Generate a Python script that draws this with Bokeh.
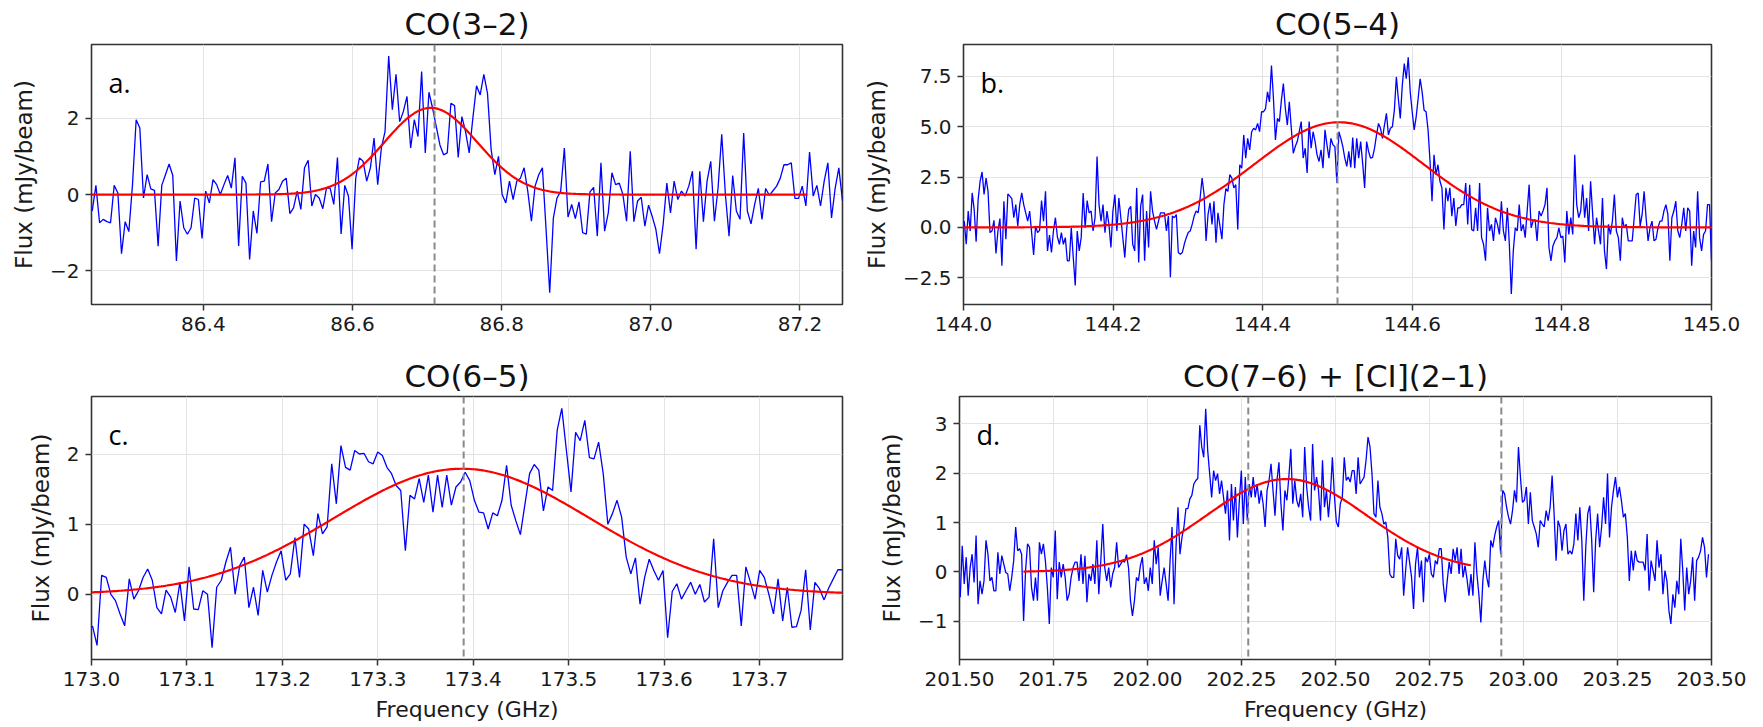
import numpy as np
from bokeh.plotting import figure
from bokeh.layouts import column, row
from bokeh.models import Range1d, FixedTicker, Span, Label
from bokeh.embed import file_html
from bokeh.resources import INLINE

# ---------------- data ----------------
titles = ["CO(3\u20132)", "CO(5\u20134)", "CO(6\u20135)", "CO(7\u20136) + [CI](2\u20131)"]
panel_tags = ["a.", "b.", "c.", "d."]

# channel grids: first and last channel frequency (GHz)
chan_a = [86.251, 87.257]
chan_b = [144.001, 145.000]
chan_c = [173.001, 173.787]
chan_d = [201.502, 203.492]

flux_a = [-0.43, 0.24, -0.74, -0.65, -0.71, -0.74, 0.24, 0.04, -1.55, -0.71,
          -0.97, 0.26, 1.96, 1.74, -0.09, 0.52, 0.15, 0.11, -1.35, 0.24,
          0.52, 0.80, 0.50, -1.74, -0.17, -0.87, -1.04, -0.87, -0.09, -0.13,
          -1.15, 0.09, -0.22, 0.39, 0.26, 0.00, 0.26, 0.50, 0.17, 0.96,
          -1.35, 0.48, 0.30, -1.70, -0.43, -1.02, 0.33, 0.35, 0.80, -0.71,
          0.04, 0.13, 0.35, 0.43, -0.50, -0.35, 0.09, -0.39, 0.70, 0.90,
          -0.30, 0.00, -0.09, -0.37, 0.17, 0.17, -0.26, 0.97, -1.03, 0.24,
          -0.04, -1.43, 0.43, 0.96, 0.87, 0.35, 0.70, 1.48, 0.26, 1.22,
          1.65, 3.63, 2.22, 3.15, 1.91, 2.17, 2.57, 1.22, 1.96, 1.52,
          3.22, 1.09, 2.68, 2.26, 1.78, 1.30, 1.04, 1.09, 2.39, 2.33,
          0.97, 2.04, 1.65, 1.09,
          2.00, 2.85, 2.61, 3.15, 2.65, 1.17, 0.52, 1.00, 0.00, -0.22,
          0.35, -0.13, 0.35, 0.43, 0.70, 0.09, -0.70, 0.22, 0.52, 0.70,
          -0.91, -2.57, -0.61, -0.09, 0.09, 1.22, -0.59, -0.26, -0.63, -0.19,
          -1.00, -1.04, 0.07, 0.19, -1.09, 0.83, -0.96, -0.48, 0.57, 0.26,
          0.30, 0.00, -0.70, 1.13, -0.71, -0.17, -0.07, -0.83, -0.28, -0.57,
          -0.91, -1.55, -0.78, 0.30, -0.48, 0.35, -0.13, 0.09, -0.04, 0.22,
          0.61, -1.43, 0.61, -0.71, 0.35, 0.87, -0.70, 0.17, 1.58, 0.00,
          -1.09, 0.50, -0.43, -0.65, 1.61, -0.43, -0.77, -0.26, 0.16, -0.65,
          0.16, -0.02, 0.10, 0.22, 0.43, 0.78, 0.78, 0.83, -0.10, -0.10,
          0.22, -0.30, 1.11, -0.04, 0.24, -0.30, 0.35, 0.83, -0.61, 0.17,
          0.70, -0.17]

flux_b = [0.31, -0.84, 0.81, -0.18, 1.71, 0.89, -0.71, 1.38, 2.29, 2.75,
          1.63, 2.45, 1.79, -0.26, -0.18, 0.35, -1.30, -0.18, 0.44, -1.91,
          1.30, -0.59, 1.66, 1.55, 1.43, 0.48, 1.13, 0.07, 1.13, 1.71,
          1.13, 0.72, 0.31, 0.81, -0.26, -1.37, 0.07, -0.26, -0.15, 1.33,
          0.31, 1.79, -1.17, -0.38, -1.25, -0.18, 0.48, -0.48, -0.84, -0.26,
          -0.84, -0.51, -1.66, -1.66, -0.02, -1.50, -2.89, -0.18, -1.17, -0.51,
          1.71, -0.02, 1.33, 0.72, 0.81, -0.18, 0.48, 3.52, 1.13, 0.31,
          1.13, -0.26, 0.81, 0.15, -1.00, 0.81, 1.63, -0.18, 1.46, 0.48,
          -0.51, -1.50, -0.02, 0.89, 1.05, -0.84, -1.17, 1.96, -1.74, 1.05,
          1.63, -1.66, 0.81, -1.00, 1.79, 0.81, 0.31, -0.10, 0.31, 0.72,
          0.72, 0.72, -0.18, 0.56, -2.48, 0.56, 0.48, 0.64, -1.25, -1.33,
          -1.25, -0.84, -0.51, -0.26, -0.18, 0.15, 0.56, 0.81, 0.72, 1.46,
          2.45, 1.63, -0.67, 0.64, 1.22, 0.15, 1.30, -0.76, 0.72, 0.07,
          -0.59, 1.13, 1.92, 1.79, 2.62, 2.45, 1.96, 2.12, -0.10, 3.11,
          2.94, 4.59, 3.44, 4.42, 3.85, 4.75, 4.92, 4.84, 5.16, 4.75,
          5.74, 5.74, 5.90, 6.73, 6.23, 8.04, 6.40, 4.34, 5.41, 5.25,
          6.32, 7.14, 5.90, 5.08, 6.23, 4.92, 3.68, 4.01, 4.26, 4.75,
          5.25, 3.44, 3.93, 2.70, 5.25, 3.93, 4.75, 4.26, 3.60, 3.27,
          3.85, 2.94, 4.84, 4.10, 3.44, 4.42, 4.10, 4.01, 2.20, 4.75,
          4.42,
          4.01, 3.44, 3.03, 3.77, 2.98, 4.46, 2.94, 4.42, 3.44, 4.26,
          3.19, 1.96, 4.26, 3.77, 3.44, 3.47, 3.93, 4.59, 5.16, 4.92,
          4.42, 5.08, 5.66, 4.59, 4.92, 5.00, 5.82, 7.47, 6.40, 5.41,
          7.06, 8.13, 7.38, 8.45, 6.73, 5.74, 4.84, 5.49, 6.40, 7.38,
          6.73, 5.82, 5.74, 4.84, 3.27, 1.30, 3.60, 2.62, 3.11, 2.29,
          1.96, -0.10, 1.96, 1.30, 1.96, 0.56, 1.46, 0.07, 0.97, 0.97,
          1.13, 1.13, 2.20, 0.15, 2.12, -0.10, -0.18, 0.97, -0.18, 2.20,
          -0.51, -0.84, -1.66, 0.97, -0.18, 0.15, -0.67, 0.48, 0.15, -0.35,
          1.30, -0.18, -0.67, 0.97, -0.84, -3.31, -1.17, -0.02, -0.18, 1.13,
          -0.18, 0.15, -0.51, 0.81, 2.12, -0.02, 0.31, 0.39, -0.67, 0.81,
          0.56, 0.81, 1.13, 1.96, -1.00, -1.66, -0.92, -0.67, -0.51, -0.02,
          -0.51, -0.43, -1.74, 0.81, -0.35, 0.48, -0.35, 3.60, 1.13, 0.48,
          0.81, 2.12, 0.48, 1.46, -0.18, 2.29, 0.72, -0.84, 0.48, -0.18,
          -0.84, 1.46, -1.17, -2.07, 0.15, -0.35, 0.31, 1.63, -0.18, -0.51,
          -1.66, 0.48, -0.02, 0.15, -0.67, -0.67, -0.67, 0.48, 1.63, 1.71,
          0.07, 0.64, 1.79, 0.48, -0.67, -0.02, 0.31, -0.67, -0.59, -0.02,
          0.31, 0.31, 0.81, 1.13, 0.64, -1.66, 0.48, 0.81, 1.30, -0.18,
          -0.51, 0.15, 0.97, -0.18, 0.97, 0.81, -1.91, -0.18, -1.00, 1.79,
          -0.51, -1.17, -0.35, -0.18, 1.13, 1.13, -1.66]

flux_c = [-0.45, -0.73, 0.27, 0.24, 0.00, -0.09, -0.28, -0.45, 0.22, -0.07,
          0.05, 0.24, 0.36, 0.20, -0.19, -0.28, 0.06, -0.04, -0.26, 0.17,
          -0.38, 0.39, -0.21, -0.22, 0.05, 0.00, -0.76, 0.10, 0.20, 0.46,
          0.67, 0.00, 0.41, 0.53, -0.19, 0.10, -0.30, 0.34, 0.03, 0.27,
          0.46, 0.62, 0.20, 0.29, 0.81, 0.24, 1.00, 0.93, 0.55, 1.15,
          0.86, 0.96, 1.86, 1.29, 2.12, 1.81, 1.77, 2.05, 2.00, 2.01,
          1.89, 1.86, 2.03, 1.98, 1.81, 1.72, 1.55, 1.48, 0.62, 1.41,
          1.36, 1.65, 1.31, 1.70, 1.17, 1.70, 1.24, 1.70, 1.27, 1.53,
          1.60, 1.74, 1.62, 1.34,
          1.17, 1.16, 0.93, 1.16, 1.12, 1.34, 1.84, 1.27, 1.05, 0.85,
          1.29, 1.72, 1.85, 1.77, 1.19, 1.53, 1.48, 2.34, 2.65, 2.05,
          1.46, 2.31, 2.19, 2.48, 1.95, 1.93, 2.17, 1.72, 1.00, 1.15,
          1.34, 1.10, 0.53, 0.29, 0.52, -0.14, 0.24, 0.50, 0.34, 0.20,
          0.34, -0.62, 0.04, 0.15, -0.07, 0.05, 0.17, 0.00, 0.14, -0.11,
          -0.04, 0.79, -0.19, 0.05, 0.17, 0.27, 0.27, -0.45, 0.39, 0.17,
          -0.07, 0.34, 0.24, 0.00, -0.28, 0.22, -0.38, 0.10, -0.47, -0.46,
          -0.23, 0.35, -0.51, 0.17, 0.08, -0.08, 0.09, 0.22, 0.35, 0.35]

flux_d = [-0.51, 0.53, -0.24, 0.30, -0.48, 0.09, 0.36, -0.21, 0.74, -0.65,
          -0.18, -0.45, -0.18, 0.64, 0.36, -0.18, -0.11, -0.38, -0.38, 0.40,
          -0.04, 0.33, 0.16, -0.01, -0.04, -0.38, -0.11, 0.23, 0.91, 0.43,
          0.47, 0.36, -0.99, 0.03, 0.57, 0.50, -0.31, -0.58, -0.11, -0.58,
          0.60, 0.36, 0.57, 0.23, -0.31, -1.05, 0.09, -0.11, 0.84, -0.55,
          0.20, -0.11, 0.16, -0.11, -0.58, -0.45, -0.11, 0.09, 0.20, 0.20,
          -0.18, 0.36, -0.24, 0.33, -0.61, -0.04, -0.18, 0.16, -0.24, 0.64,
          -0.45, 0.23, 0.97, 0.09, -0.18, 0.09, -0.31, -0.04, 0.09, 0.60,
          0.09, 0.16, 0.23, 0.20, 0.35, 0.09, -0.58, -0.89, -0.58, -0.11,
          -0.18, 0.13, 0.30, -0.24, -0.11, -0.38, 0.09, -0.24, 0.64, 0.16,
          0.50, -0.48, -0.18, 0.09, -0.24, -0.58, 0.23, 0.91, -0.65, 0.50,
          1.31, 0.36, 0.70, 0.91, 1.28, 1.28, 1.48, 1.55, 1.78, 1.85,
          1.89, 2.97, 2.53, 2.32, 3.30, 2.46, 1.99, 1.51, 2.05, 1.85,
          1.99, 1.58, 1.85, 1.51, 1.18, 1.65, 0.64, 1.78, 1.04, 1.72,
          0.70, 1.45, 2.05, 0.97, 1.92, 1.04, 1.78, 1.51, 1.92, 1.51,
          1.78, 1.38, 1.65, 1.38, 0.91, 1.65, 1.85, 2.19, 1.65, 1.14,
          1.85, 2.22, 1.38, 0.84, 1.65, 1.45, 1.92, 2.49, 1.38, 1.85,
          1.45, 1.31, 1.58, 1.11, 2.53, 1.72, 1.31, 1.04, 2.59, 1.65,
          1.92, 1.65, 1.04, 2.26, 1.31, 1.65, 1.11, 1.58, 2.32, 1.55,
          1.01, 0.91, 1.38, 1.51,
          2.32, 1.85, 1.92, 1.82, 2.05, 2.05, 1.58, 2.32, 1.78, 1.85,
          1.92, 2.26, 2.73, 2.53, 1.99, 1.18, 1.11, 1.85, 1.31, 1.18,
          0.97, 1.01, 0.70, -0.04, -0.11, -0.11, 0.67, 0.33, 0.26, 0.50,
          -0.48, 0.03, 0.50, 0.20, -0.11, -0.75, 0.16, 0.50, -0.11, 0.23,
          -0.61, 0.30, 0.20, 0.36, -0.04, -0.11, 0.23, 0.16, 0.47, 0.47,
          -0.24, -0.61, -0.18, 0.20, -0.04, 0.47, 0.23, 0.50, -0.04, 0.47,
          -0.11, 0.13, -0.14, -0.48, -0.04, -0.48, 0.60, -0.04, -0.45, -1.02,
          -0.18, 0.23, -0.11, -0.31, 0.64, 0.50, 0.74, 0.91, 1.04, 0.36,
          1.65, 1.58, 1.31, 1.11, 0.97, 1.24, 1.65, 1.41, 2.53, 1.92,
          1.41, 1.45, 1.72, 0.97, 1.61, 1.04, 0.91, 0.77, 0.50, 1.04,
          0.97, 0.91, 1.24, 1.04, 1.31, 1.95, 1.18, 0.23, 1.04, 0.91,
          0.43, 0.84, 0.97, 0.36, 0.43, 0.36, 0.57, 1.18, 0.64, 1.31,
          0.64, -0.58, 0.50, 1.18, 1.34, 0.64, -0.41, 0.64, 1.18, 0.50,
          0.91, 1.51, 0.97, 1.99, 0.70, 1.31, 1.65, 1.92, 1.51, 1.72,
          1.45, 1.11, 1.18, 0.70, -0.18, 0.43, 0.03, 0.43, 0.23, 0.20,
          0.20, 0.20, 0.03, 0.77, -0.38, 0.23, 0.03, -0.18, 0.64, 0.09,
          0.36, -0.45, 0.03, -0.18, -0.78, -1.05, -0.45, -0.72, -0.18, -0.45,
          0.67, 0.03, -0.78, 0.09, -0.45, -0.18, 0.30, -0.58, 0.23, 0.30,
          0.43, 0.70, 0.50, -0.11, 0.36]

# Gaussian fit parameters: amplitude (mJy/beam), centre (GHz), sigma (GHz), fit span (GHz)
fit_a = {"amp": 2.27, "cen": 86.705, "sig": 0.062, "span": [86.25, 87.21]}
fit_b = {"amp": 5.22, "cen": 144.502, "sig": 0.112, "span": [144.0, 145.0]}
fit_c = {"amp": 1.79, "cen": 173.388, "sig": 0.134, "span": [173.0, 173.787]}
fit_d = {"amp": 1.88, "cen": 202.37, "sig": 0.214, "span": [201.67, 202.86]}

# expected line frequencies (dashed markers)
lines_a = [86.71]
lines_b = [144.50]
lines_c = [173.39]
lines_d = [202.268, 202.941]

# axis ranges and ticks
xr_a = [86.25, 87.257]; yr_a = [-2.88, 3.93]
xr_b = [144.0, 145.0]; yr_b = [-3.83, 9.08]
xr_c = [173.0, 173.787]; yr_c = [-0.93, 2.82]
xr_d = [201.5, 203.5]; yr_d = [-1.77, 3.55]

xt_a = [86.4, 86.6, 86.8, 87.0, 87.2]; xtl_a = ["86.4", "86.6", "86.8", "87.0", "87.2"]
yt_a = [-2, 0, 2]; ytl_a = ["\u22122", "0", "2"]
xt_b = [144.0, 144.2, 144.4, 144.6, 144.8, 145.0]; xtl_b = ["144.0", "144.2", "144.4", "144.6", "144.8", "145.0"]
yt_b = [-2.5, 0.0, 2.5, 5.0, 7.5]; ytl_b = ["\u22122.5", "0.0", "2.5", "5.0", "7.5"]
xt_c = [173.0, 173.1, 173.2, 173.3, 173.4, 173.5, 173.6, 173.7]
xtl_c = ["173.0", "173.1", "173.2", "173.3", "173.4", "173.5", "173.6", "173.7"]
yt_c = [0, 1, 2]; ytl_c = ["0", "1", "2"]
xt_d = [201.5, 201.75, 202.0, 202.25, 202.5, 202.75, 203.0, 203.25, 203.5]
xtl_d = ["201.50", "201.75", "202.00", "202.25", "202.50", "202.75", "203.00", "203.25", "203.50"]
yt_d = [-1, 0, 1, 2, 3]; ytl_d = ["\u22121", "0", "1", "2", "3"]

ylabel = "Flux (mJy/beam)"
xlabel = "Frequency (GHz)"

FONT = "DejaVu Sans"
TAG_FONT = "Open Sans"


def make_panel(title, tag, chan, flux, fit, lines, xr, yr, xt, xtl, yt, ytl,
               w, h, bl, br, bt, bb, show_xlabel):
    p = figure(width=w, height=h, x_range=Range1d(*xr), y_range=Range1d(*yr),
               output_backend="svg", toolbar_location=None,
               min_border_left=bl, min_border_right=br,
               min_border_top=bt, min_border_bottom=bb, title=title)
    p.title.align = "center"
    p.title.text_font = FONT
    p.title.text_font_size = "31px"
    p.title.text_font_style = "normal"
    p.title.text_color = "#111111"
    p.title.standoff = 6
    p.outline_line_color = "#333333"
    p.outline_line_width = 1.6
    p.background_fill_color = "white"
    p.border_fill_color = "white"

    for ax in (p.xaxis[0], p.yaxis[0]):
        ax.axis_line_color = None
        ax.major_tick_line_color = "#333333"
        ax.major_tick_line_width = 1.5
        ax.major_tick_out = 6
        ax.major_tick_in = 0
        ax.minor_tick_line_color = None
        ax.major_label_text_font = FONT
        ax.major_label_text_font_size = "20px"
        ax.major_label_text_color = "#1a1a1a"
        ax.major_label_standoff = 6
        ax.axis_label_text_font = FONT
        ax.axis_label_text_font_style = "normal"
        ax.axis_label_text_color = "#1a1a1a"
    p.xaxis[0].ticker = FixedTicker(ticks=xt)
    p.xaxis[0].major_label_overrides = {float(t): s for t, s in zip(xt, xtl)}
    p.yaxis[0].ticker = FixedTicker(ticks=yt)
    p.yaxis[0].major_label_overrides = {float(t): s for t, s in zip(yt, ytl)}
    p.yaxis[0].axis_label = ylabel
    p.yaxis[0].axis_label_text_font_size = "23px"
    p.yaxis[0].axis_label_standoff = 10
    if show_xlabel:
        p.xaxis[0].axis_label = xlabel
        p.xaxis[0].axis_label_text_font_size = "22px"
        p.xaxis[0].axis_label_standoff = 8

    p.xgrid.grid_line_color = "#e3e3e3"
    p.ygrid.grid_line_color = "#e3e3e3"
    p.xgrid.grid_line_width = 1
    p.ygrid.grid_line_width = 1

    freq = np.linspace(chan[0], chan[1], len(flux))
    p.line(freq, flux, line_color="#0000ff", line_width=1.3)

    fx = np.linspace(fit["span"][0], fit["span"][1], 400)
    fy = fit["amp"] * np.exp(-0.5 * ((fx - fit["cen"]) / fit["sig"]) ** 2)
    p.line(fx, fy, line_color="#ff0000", line_width=2.2)

    for loc in lines:
        p.add_layout(Span(location=loc, dimension="height", line_color="#8a8a8a",
                          line_width=2, line_dash="7 4"))

    p.add_layout(Label(x=xr[0], y=yr[1], x_offset=17, y_offset=-38, text=tag,
                       text_font=TAG_FONT, text_font_size="27px",
                       text_font_style="normal",
                       text_baseline="alphabetic", text_align="left",
                       text_color="#000000"))
    return p


pa = make_panel(titles[0], panel_tags[0], chan_a, flux_a, fit_a, lines_a, xr_a, yr_a,
                xt_a, xtl_a, yt_a, ytl_a, 860, 344, 91, 18, 42, 40, False)
pb = make_panel(titles[1], panel_tags[1], chan_b, flux_b, fit_b, lines_b, xr_b, yr_b,
                xt_b, xtl_b, yt_b, ytl_b, 903, 344, 99, 52, 42, 40, False)
pc = make_panel(titles[2], panel_tags[2], chan_c, flux_c, fit_c, lines_c, xr_c, yr_c,
                xt_c, xtl_c, yt_c, ytl_c, 860, 383, 91, 18, 52, 68, True)
pd = make_panel(titles[3], panel_tags[3], chan_d, flux_d, fit_d, lines_d, xr_d, yr_d,
                xt_d, xtl_d, yt_d, ytl_d, 903, 383, 99, 52, 52, 68, True)

layout = column(row(pa, pb), row(pc, pd))
open("out.html", "w").write(file_html(layout, INLINE))
